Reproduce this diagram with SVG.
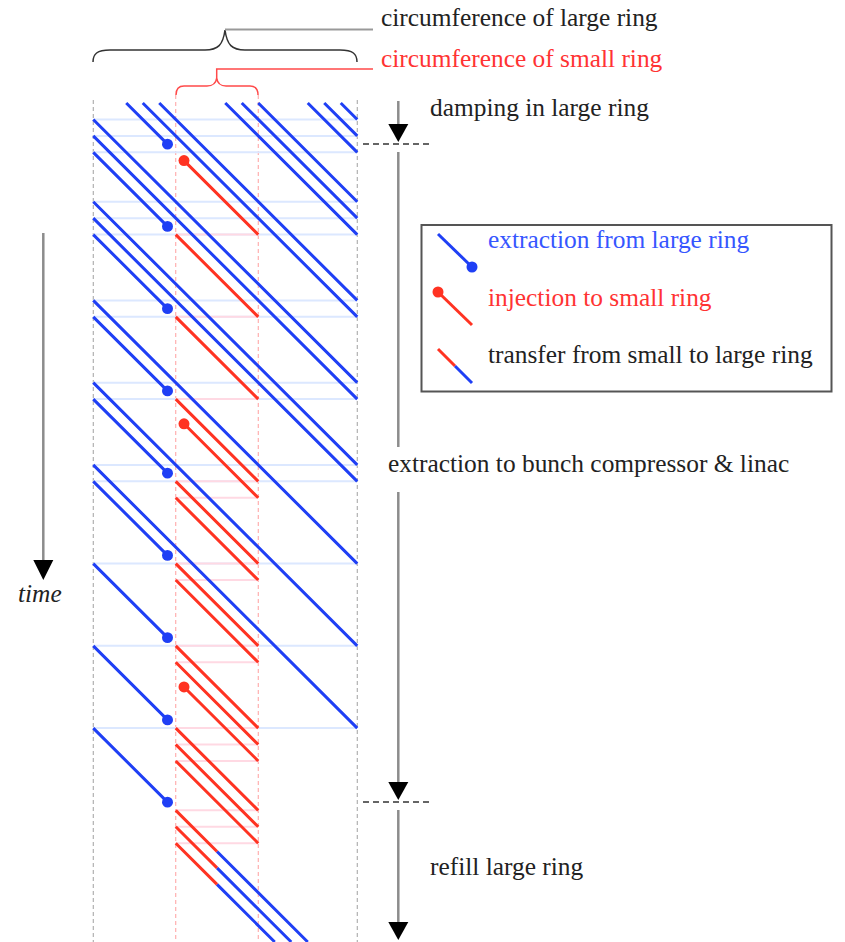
<svg xmlns="http://www.w3.org/2000/svg" width="845" height="942" viewBox="0 0 845 942">
  <style>
    text { font-family: "Liberation Serif", "Times New Roman", serif; font-size: 25.4px; fill: #222; }
    .u { vector-effect: non-scaling-stroke; fill: none; }
    .blue { stroke: #1f3ff5; stroke-width: 3; }
    .red { stroke: #ff3322; stroke-width: 3; }
    .wrapL { stroke: #dce8ff; stroke-width: 2; }
    .wrapS { stroke: #ffd9e3; stroke-width: 2; }
    .bdot { fill: #1f3ff5; }
    .rdot { fill: #ff3322; }
    .edgeL { stroke: #a0a0a0; stroke-width: 1; stroke-dasharray: 4 3; }
    .edgeS { stroke: #ff9e9e; stroke-width: 1; stroke-dasharray: 4 3; }
    .axis { stroke: #8c8c8c; stroke-width: 2.5; }
    .head { fill: #000; }
    .mark { stroke: #333; stroke-width: 1.5; stroke-dasharray: 6 4; }
  </style>

  <!-- ring boundaries -->
  <g id="ring-edges">
    <line class="edgeL" x1="93.25" y1="100" x2="93.25" y2="942"/>
    <line class="edgeL" x1="357.25" y1="100" x2="357.25" y2="942"/>
    <line class="edgeS" x1="175.75" y1="95" x2="175.75" y2="942"/>
    <line class="edgeS" x1="258.25" y1="95" x2="258.25" y2="942"/>
  </g>

  <!-- bunch tracks: x in bucket slots, y in time steps -->
  <g id="tracks" transform="translate(93.25,103) scale(16.5,16.45)">
    <!-- wrap-around of the large ring -->
    <path class="u wrapL" d="M0,1H16M0,2H16M0,3H16M0,6H16M0,7H16M0,8H16M0,12H16M0,13H16M0,17H16M0,18H16M0,22H16M0,23H16M0,28H16M0,33H16M0,38H16"/>
    <!-- wrap-around of the small ring -->
    <path class="u wrapS" d="M5,8H10M5,13H10M5,18H10M5,23H10M5,24H10M5,28H10M5,29H10M5,33H10M5,34H10M5,38H10M5,39H10M5,40H10M5,43H10M5,44H10M5,45H10"/>
    <!-- bunches stored in the large ring -->
    <path class="u blue" d="M2,0L4.5,2.5
      M3,0L16,13M0,13L4.5,17.5
      M4,0L16,12M0,12L16,28M0,28L4.5,32.5
      M8,0L16,8M0,8L4.5,12.5
      M9,0L16,7M0,7L16,23M0,23L4.5,27.5
      M10,0L16,6M0,6L16,22M0,22L16,38M0,38L4.5,42.5
      M13,0L16,3M0,3L4.5,7.5
      M14,0L16,2M0,2L16,18M0,18L4.5,22.5
      M15,0L16,1M0,1L16,17M0,17L16,33M0,33L4.5,37.5
      M7.5,45.5L13,51M7.5,46.5L12,51M7.5,47.5L11,51"/>
    <!-- bunches in the small ring -->
    <path class="u red" d="M5.5,3.5L10,8M5,8L10,13M5,13L10,18M5,18L10,23M5,23L10,28M5,28L10,33M5,33L10,38M5,38L10,43M5,43L7.5,45.5
      M5.5,19.5L10,24M5,24L10,29M5,29L10,34M5,34L10,39M5,39L10,44M5,44L7.5,46.5
      M5.5,35.5L10,40M5,40L10,45M5,45L7.5,47.5"/>
    <!-- extraction points -->
    <g class="bdot">
      <ellipse cx="4.5" cy="2.5" rx="0.333" ry="0.334"/>
      <ellipse cx="4.5" cy="7.5" rx="0.333" ry="0.334"/>
      <ellipse cx="4.5" cy="12.5" rx="0.333" ry="0.334"/>
      <ellipse cx="4.5" cy="17.5" rx="0.333" ry="0.334"/>
      <ellipse cx="4.5" cy="22.5" rx="0.333" ry="0.334"/>
      <ellipse cx="4.5" cy="27.5" rx="0.333" ry="0.334"/>
      <ellipse cx="4.5" cy="32.5" rx="0.333" ry="0.334"/>
      <ellipse cx="4.5" cy="37.5" rx="0.333" ry="0.334"/>
      <ellipse cx="4.5" cy="42.5" rx="0.333" ry="0.334"/>
    </g>
    <!-- injection points -->
    <g class="rdot">
      <ellipse cx="5.5" cy="3.5" rx="0.333" ry="0.334"/>
      <ellipse cx="5.5" cy="19.5" rx="0.333" ry="0.334"/>
      <ellipse cx="5.5" cy="35.5" rx="0.333" ry="0.334"/>
    </g>
  </g>

  <!-- circumference braces -->
  <g id="brace-large">
    <path d="M93,62C93,54 97,50 110,50L205,50C218,50 223,45 225,30C227,45 232,50 245,50L340,50C353,50 357,54 357,62" fill="none" stroke="#333" stroke-width="1.5"/>
    <path d="M225,29.5H373" stroke="#999" stroke-width="2"/>
    <text x="381" y="26">circumference of large ring</text>
  </g>
  <g id="brace-small">
    <path d="M176,95C176,89 178,86 184,86L207,86C213,86 216,83 216.7,78C217.4,83 220,86 226,86L250,86C256,86 258,89 258,95" fill="none" stroke="#ff4a4a" stroke-width="1.5"/>
    <path d="M216.7,78V69H373" fill="none" stroke="#ff4a4a" stroke-width="1.5"/>
    <text x="381" y="67" style="fill:#ff3333">circumference of small ring</text>
  </g>

  <!-- time axis -->
  <g id="time-axis">
    <line class="axis" x1="43.3" y1="233" x2="43.3" y2="562"/>
    <polygon class="head" points="33.3,560 53.3,560 43.3,580"/>
    <text x="18" y="602" font-style="italic">time</text>
  </g>

  <!-- operating phases -->
  <g id="phases">
    <line class="axis" x1="398.3" y1="101" x2="398.3" y2="126"/>
    <polygon class="head" points="388.3,124 408.3,124 398.3,142"/>
    <line class="mark" x1="363" y1="144" x2="432" y2="144"/>
    <text x="430" y="116">damping in large ring</text>
    <line class="axis" x1="398.3" y1="152" x2="398.3" y2="447"/>
    <text x="388" y="471.5">extraction to bunch compressor &amp; linac</text>
    <line class="axis" x1="398.3" y1="492" x2="398.3" y2="784"/>
    <polygon class="head" points="388.3,782 408.3,782 398.3,800"/>
    <line class="mark" x1="363" y1="802" x2="432" y2="802"/>
    <line class="axis" x1="398.3" y1="810" x2="398.3" y2="924"/>
    <polygon class="head" points="388.3,922 408.3,922 398.3,940"/>
    <text x="430" y="875">refill large ring</text>
  </g>

  <!-- legend -->
  <g id="legend">
    <rect x="421.5" y="225" width="410" height="166.5" fill="#fff" stroke="#555" stroke-width="2"/>
    <line class="blue" x1="438" y1="234" x2="472" y2="267"/>
    <circle class="bdot" cx="472" cy="267" r="5.5"/>
    <text x="488" y="248" style="fill:#3656ff">extraction from large ring</text>
    <line class="red" x1="438" y1="292" x2="472" y2="325"/>
    <circle class="rdot" cx="438" cy="292" r="5.5"/>
    <text x="488" y="306" style="fill:#ff3333">injection to small ring</text>
    <line class="red" x1="438" y1="349" x2="455" y2="366"/>
    <line class="blue" x1="455" y1="366" x2="472" y2="383"/>
    <text x="488" y="363">transfer from small to large ring</text>
  </g>
</svg>
